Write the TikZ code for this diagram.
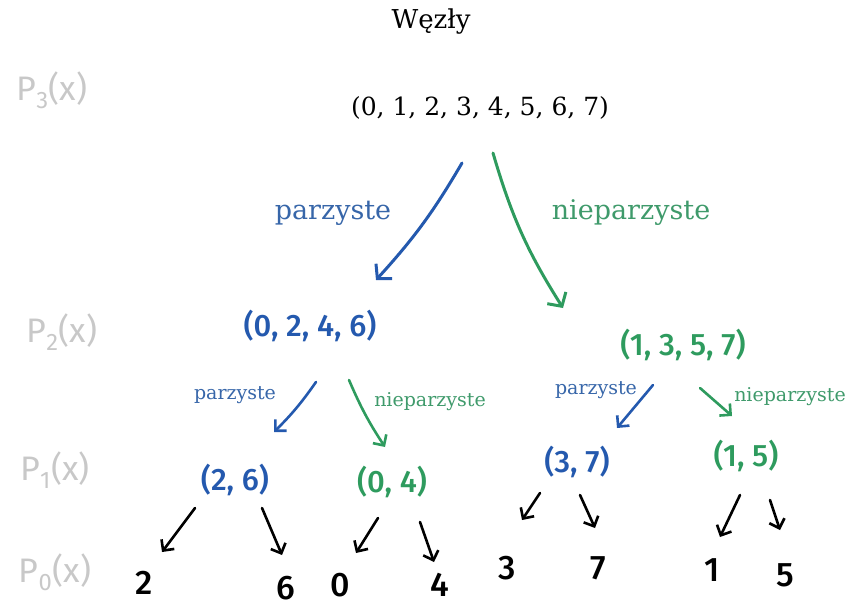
\documentclass[tikz,border=0pt]{standalone}
\usepackage{fontspec}
\setmainfont{DejaVu Serif}
\newfontfamily\handfont{Fira Sans Medium}
\newfontfamily\handlight{Fira Sans}
\usepackage{tikz}
\usetikzlibrary{arrows.meta}

\begin{document}
\begin{tikzpicture}[x=1pt,y=-1pt]

% Kolory
\definecolor{colEven}{HTML}{2459AE}
\definecolor{colOdd}{HTML}{2E9B5E}
\definecolor{colEvenTxt}{HTML}{3766A9}
\definecolor{colOddTxt}{HTML}{3F9A6B}
\definecolor{colPoly}{HTML}{C8C8C8}

\tikzset{
  printed/.style={inner sep=0pt, font=\fontsize{#1}{#1}\selectfont},
  hand/.style={inner sep=0pt, font=\handfont\fontsize{#1}{#1}\selectfont},
  poly/.style={inner sep=0pt, text=colPoly, font=\handlight\fontsize{34}{34}\selectfont},
  bigarr/.style={line width=3pt, line cap=round, -{Straight Barb[length=10pt,width=22pt,line width=3pt]}},
  smallarr/.style={line width=2.6pt, line cap=round, -{Straight Barb[length=8pt,width=16pt,line width=2.6pt]}}
}

\useasboundingbox (0,0) rectangle (850,610);

% Tytul
\node[printed=26] (title) at (431,22) {Węzły};

% Wielomiany (szare, z lewej)
\node[poly] (poly3) at (52,90) {P\textsubscript{3}(x)};
\node[poly] (poly2) at (62,332) {P\textsubscript{2}(x)};
\node[poly] (poly1) at (55,470) {P\textsubscript{1}(x)};
\node[poly] (poly0) at (55,572) {P\textsubscript{0}(x)};

% Korzen
\node[printed=25] (root) at (480,108) {(0, 1, 2, 3, 4, 5, 6, 7)};

% Poziom 2
\node[printed=27, text=colEvenTxt] (lblEven) at (333,213) {parzyste};
\node[printed=27, text=colOddTxt] (lblOdd) at (631,213) {nieparzyste};
\node[hand=31, text=colEven] (even) at (310,326) {(0, 2, 4, 6)};
\node[hand=31, text=colOdd] (odd) at (683,345) {(1, 3, 5, 7)};

% Poziom 1
\node[printed=19, text=colEvenTxt] (lblEE) at (235,395) {parzyste};
\node[printed=19, text=colOddTxt] (lblEO) at (430,402) {nieparzyste};
\node[printed=19, text=colEvenTxt] (lblOE) at (596,390) {parzyste};
\node[printed=19, text=colOddTxt] (lblOO) at (790,397) {nieparzyste};
\node[hand=31, text=colEven] (e1) at (235,480) {(2, 6)};
\node[hand=31, text=colOdd] (e2) at (392,482) {(0, 4)};
\node[hand=31, text=colEven] (o1) at (577,462) {(3, 7)};
\node[hand=31, text=colOdd] (o2) at (746,456) {(1, 5)};

% Liscie
\node[hand=34] (l2) at (144,583) {2};
\node[hand=34] (l6) at (286,588) {6};
\node[hand=34] (l0) at (340,585) {0};
\node[hand=34] (l4) at (440,585) {4};
\node[hand=34] (l3) at (507,568) {3};
\node[hand=34] (l7) at (598,568) {7};
\node[hand=34] (l1) at (712,570) {1};
\node[hand=34] (l5) at (785,575) {5};

% Strzalki
\draw[bigarr, colEven] ([shift={(-18,55)}]root.center) to[bend left=6] ([shift={(66,-46)}]even.center);
\draw[bigarr, colOdd] ([shift={(13,45)}]root.center) to[bend right=8] ([shift={(-120,-37)}]odd.center);

\draw[smallarr, colEven] ([shift={(6,56)}]even.center) to[bend left=5] ([shift={(39,-48)}]e1.center);
\draw[smallarr, colOdd] ([shift={(39,54)}]even.center) to[bend right=5] ([shift={(-7,-35)}]e2.center);
\draw[smallarr, colEven] ([shift={(-30,40)}]odd.center) -- ([shift={(40,-34)}]o1.center);
\draw[smallarr, colOdd] ([shift={(17,43)}]odd.center) -- ([shift={(-14,-40)}]o2.center);

\draw[smallarr] ([shift={(-40,28)}]e1.center) -- ([shift={(18,-31)}]l2.center);
\draw[smallarr] ([shift={(27,28)}]e1.center) -- ([shift={(-4,-33)}]l6.center);
\draw[smallarr] ([shift={(-14,36)}]e2.center) -- ([shift={(16,-32)}]l0.center);
\draw[smallarr] ([shift={(28,40)}]e2.center) -- ([shift={(-6,-23)}]l4.center);
\draw[smallarr] ([shift={(-37,31)}]o1.center) -- ([shift={(15,-48)}]l3.center);
\draw[smallarr] ([shift={(3,33)}]o1.center) -- ([shift={(-3,-40)}]l7.center);
\draw[smallarr] ([shift={(-6,39)}]o2.center) -- ([shift={(8,-33)}]l1.center);
\draw[smallarr] ([shift={(24,44)}]o2.center) -- ([shift={(-5,-45)}]l5.center);

\end{tikzpicture}
\end{document}
